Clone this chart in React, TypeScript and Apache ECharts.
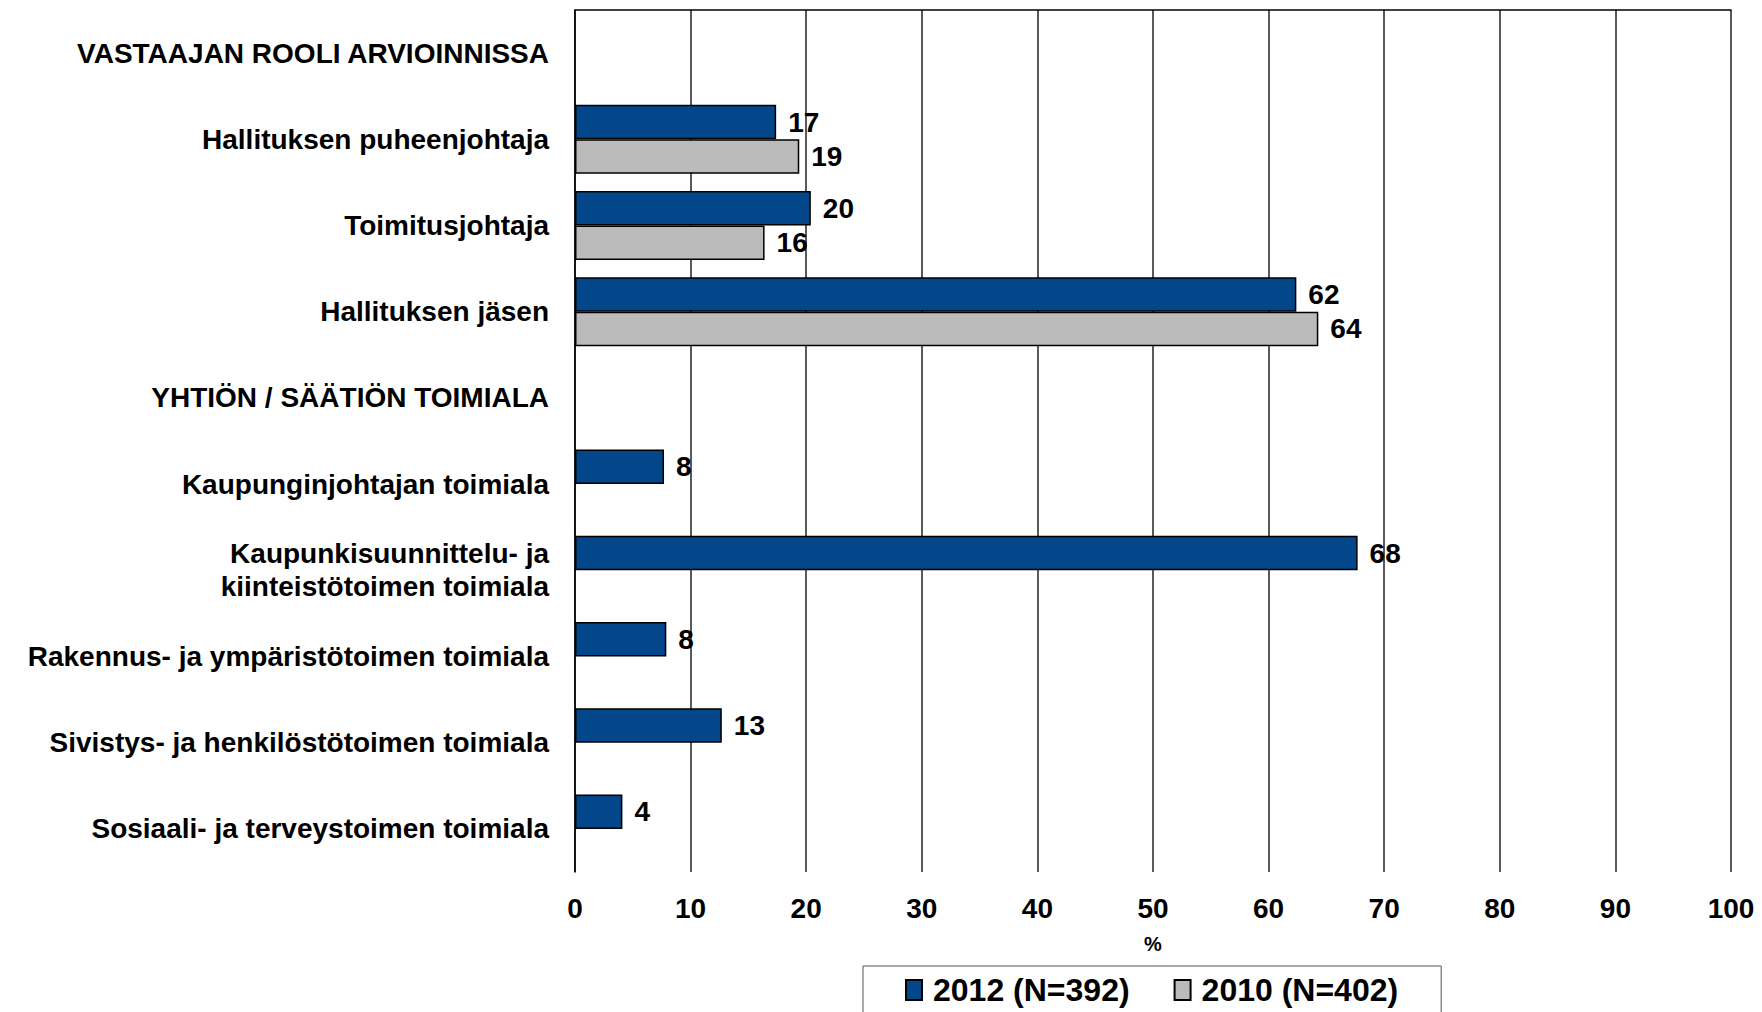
import React, { useEffect, useRef } from "react";
import * as echarts from "echarts";

const categories = [
  "VASTAAJAN ROOLI ARVIOINNISSA",
  "Hallituksen puheenjohtaja",
  "Toimitusjohtaja",
  "Hallituksen jäsen",
  "YHTIÖN / SÄÄTIÖN TOIMIALA",
  "Kaupunginjohtajan toimiala",
  "Kaupunkisuunnittelu- ja\nkiinteistötoimen toimiala",
  "Rakennus- ja ympäristötoimen toimiala",
  "Sivistys- ja henkilöstötoimen toimiala",
  "Sosiaali- ja terveystoimen toimiala",
];
const series2012Name = "2012 (N=392)";
const series2010Name = "2010 (N=402)";
const values2012 = [null, 17.4, 20.4, 62.4, null, 7.7, 67.7, 7.9, 12.7, 4.1];
const values2010 = [null, 19.4, 16.4, 64.3, null, null, null, null, null, null];
const xMin = 0;
const xMax = 100;
const xInterval = 10;
const xName = "%";

const FONT = "'Liberation Sans', Arial, sans-serif";

export default function App() {
  const ref = useRef<HTMLDivElement>(null);
  useEffect(() => {
    document.body.style.margin = "0";
    const chart = echarts.init(ref.current!, null, { renderer: "svg" });
    const labelStyle = {
      show: true,
      position: "right" as const,
      distance: 12,
      color: "#000",
      fontFamily: FONT,
      fontWeight: "bold" as const,
      fontSize: 28,
      formatter: (p: any) => String(Math.round(p.value)),
    };
    chart.setOption({
      animation: false,
      backgroundColor: "#fff",
      textStyle: { fontFamily: FONT },
      grid: { left: 575, right: 31, top: 10, bottom: 140 },
      legend: {
        left: 863,
        top: 966,
        padding: [8, 43, 40, 42],
        icon: "rect",
        itemWidth: 16,
        itemHeight: 20,
        itemGap: 44,
        borderColor: "#555",
        borderWidth: 1,
        textStyle: { fontFamily: FONT, fontWeight: "bold", fontSize: 32, color: "#000", padding: [0, 0, 0, 6] },
        data: [series2012Name, series2010Name],
      },
      xAxis: [
        {
          type: "value",
          min: xMin,
          max: xMax,
          interval: xInterval,
          position: "bottom",
          name: xName,
          nameLocation: "middle",
          nameGap: 62,
          nameTextStyle: { fontFamily: FONT, fontWeight: "bold", fontSize: 20, color: "#000" },
          axisLine: { show: false },
          axisTick: { show: false },
          axisLabel: { color: "#000", fontFamily: FONT, fontWeight: "bold", fontSize: 28, margin: 22 },
          splitLine: { show: true, lineStyle: { color: "#222", width: 1.5 } },
        },
        {
          type: "value",
          min: xMin,
          max: xMax,
          interval: xInterval,
          position: "top",
          axisLine: { show: true, onZero: false, lineStyle: { color: "#000", width: 1.5 } },
          axisTick: { show: false },
          axisLabel: { show: false },
          splitLine: { show: false },
        },
      ],
      yAxis: {
        type: "category",
        inverse: true,
        data: categories,
        axisLine: { show: true, lineStyle: { color: "#000", width: 1.5 } },
        axisTick: { show: false },
        axisLabel: {
          color: "#000",
          fontFamily: FONT,
          fontWeight: "bold",
          fontSize: 28,
          margin: 26,
          lineHeight: 33,
          align: "right",
        },
      },
      series: [
        {
          name: series2012Name,
          type: "bar",
          data: values2012,
          barGap: "0%",
          barCategoryGap: "20%",
          itemStyle: { color: "#03468A", borderColor: "#000", borderWidth: 1.5 },
          label: labelStyle,
        },
        {
          name: series2010Name,
          type: "bar",
          data: values2010,
          barGap: "0%",
          barCategoryGap: "20%",
          itemStyle: { color: "#BABBBA", borderColor: "#000", borderWidth: 1.5 },
          label: labelStyle,
        },
      ],
    });
    return () => chart.dispose();
  }, []);
  return <div ref={ref} style={{ position: "fixed", left: 0, top: 0, width: 1762, height: 1012 }} />;
}
